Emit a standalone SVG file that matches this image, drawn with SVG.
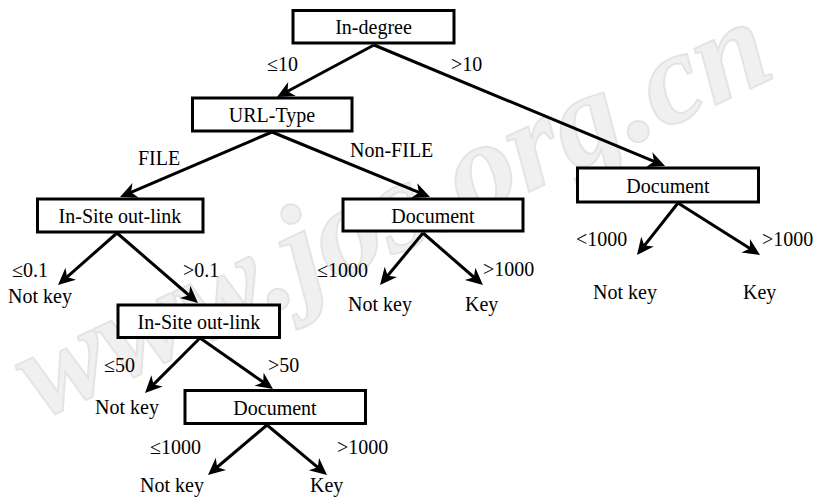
<svg xmlns="http://www.w3.org/2000/svg" width="815" height="497" viewBox="0 0 815 497">
<style>
.box{fill:#fff;stroke:#000;stroke-width:3}
.t{font-family:"Liberation Serif","Times New Roman",serif;font-size:20px;fill:#000}
.c{text-anchor:middle}
.e{stroke:#000;stroke-width:3;fill:none;marker-end:url(#ah)}
.wm{font-family:"Liberation Serif",serif;font-size:130px;font-weight:bold;font-style:italic;fill:#f0f0f0;stroke:#e4e4e4;stroke-width:2}
</style>
<defs>
<marker id="ah" markerUnits="userSpaceOnUse" viewBox="-10 -10 22 20" refX="0" refY="0" markerWidth="22" markerHeight="20" orient="auto">
<path d="M10,0 L-7,-8 L-2,0 L-7,8 Z" fill="#000"/>
</marker>
</defs>
<rect width="815" height="497" fill="#fff"/>
<text class="wm" transform="translate(40,420) rotate(-25)">www.jos.org.cn</text>
<g id="connectors">
<line class="e" x1="374" y1="45" x2="285.8" y2="92.3"/>
<line class="e" x1="374" y1="45" x2="655.8" y2="162.2"/>
<line class="e" x1="272" y1="132" x2="129.2" y2="193.1"/>
<line class="e" x1="272" y1="132" x2="420.7" y2="193.2"/>
<line class="e" x1="117" y1="233" x2="65.5" y2="278.4"/>
<line class="e" x1="117" y1="233" x2="190.4" y2="296.5"/>
<line class="e" x1="423" y1="233" x2="386.4" y2="277.3"/>
<line class="e" x1="423" y1="233" x2="475.4" y2="278.5"/>
<line class="e" x1="678" y1="203" x2="643.2" y2="247.1"/>
<line class="e" x1="678" y1="203" x2="751.6" y2="249.6"/>
<line class="e" x1="200" y1="338" x2="152.1" y2="385.9"/>
<line class="e" x1="200" y1="338" x2="264.8" y2="383.3"/>
<line class="e" x1="267" y1="425" x2="215.6" y2="468.5"/>
<line class="e" x1="267" y1="425" x2="319.3" y2="468.6"/>
</g>
<g id="labels">
<text class="t" x="267" y="71">≤10</text>
<text class="t" x="451" y="71">&gt;10</text>
<text class="t" x="138" y="165">FILE</text>
<text class="t" x="350" y="157">Non-FILE</text>
<text class="t" x="12" y="277">≤0.1</text>
<text class="t" x="183" y="277">&gt;0.1</text>
<text class="t" x="317" y="277">≤1000</text>
<text class="t" x="483" y="276">&gt;1000</text>
<text class="t" x="576" y="246">&lt;1000</text>
<text class="t" x="762" y="246">&gt;1000</text>
<text class="t" x="104" y="372">≤50</text>
<text class="t" x="268" y="372">&gt;50</text>
<text class="t" x="150" y="454">≤1000</text>
<text class="t" x="337" y="454">&gt;1000</text>
</g>
<g id="leaf1"><text class="t" x="8" y="303">Not key</text></g>
<g id="leaf2"><text class="t" x="348" y="311">Not key</text></g>
<g id="leaf3"><text class="t" x="465" y="311">Key</text></g>
<g id="leaf4"><text class="t" x="593" y="299">Not key</text></g>
<g id="leaf5"><text class="t" x="743" y="299">Key</text></g>
<g id="leaf6"><text class="t" x="95" y="414">Not key</text></g>
<g id="leaf7"><text class="t" x="140" y="492">Not key</text></g>
<g id="leaf8"><text class="t" x="310" y="492">Key</text></g>
<g id="n-indegree"><rect class="box" x="293" y="10.5" width="161" height="32.5"/><text class="t c" x="373.5" y="34">In-degree</text></g>
<g id="n-urltype"><rect class="box" x="192.5" y="98" width="159.5" height="33"/><text class="t c" x="272" y="122">URL-Type</text></g>
<g id="n-insite1"><rect class="box" x="37.5" y="199" width="165.5" height="33"/><text class="t c" x="120" y="223">In-Site out-link</text></g>
<g id="n-doc1"><rect class="box" x="343" y="199" width="180" height="32"/><text class="t c" x="433" y="223">Document</text></g>
<g id="n-doc2"><rect class="box" x="577.5" y="168" width="181" height="34"/><text class="t c" x="668" y="193">Document</text></g>
<g id="n-insite2"><rect class="box" x="118" y="305" width="161.5" height="32.5"/><text class="t c" x="199" y="329">In-Site out-link</text></g>
<g id="n-doc3"><rect class="box" x="185" y="390.5" width="180.5" height="33"/><text class="t c" x="275" y="415">Document</text></g>
</svg>
